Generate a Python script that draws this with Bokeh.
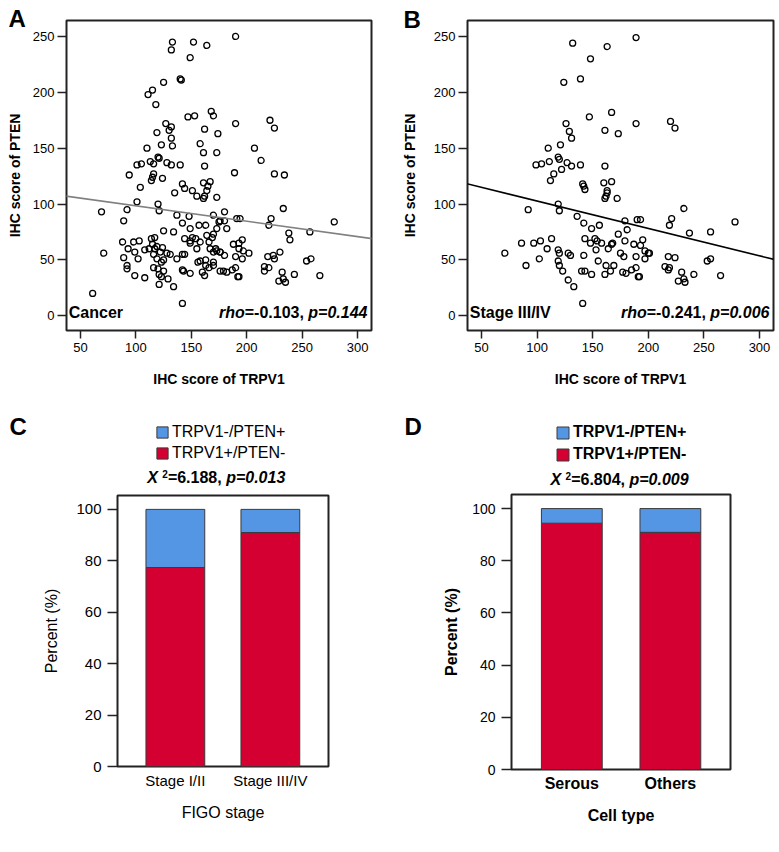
from bokeh.plotting import figure
from bokeh.models import Range1d, FixedTicker, Label, Legend, LegendItem, Slope
from bokeh.layouts import row, column
from bokeh.embed import file_html
from bokeh.resources import INLINE

FONT = "Liberation Sans"

# ---------------- data ----------------
# Panel A: all cancers (IHC score TRPV1 vs PTEN)
a_trpv1 = [133, 152, 164, 132, 149, 140, 141, 125, 115, 111, 118, 147, 153, 168, 170, 127, 132, 130, 119, 132,
           123, 133, 110, 162, 174, 158, 161, 173, 120, 121, 113, 116, 105, 101, 128, 132, 140, 162,
           190, 190, 221, 225, 207, 213,
           94, 116, 115, 124, 114, 104, 135, 142, 144, 151, 161, 167, 165, 164, 162, 155, 161, 173, 101, 92,
           120, 121, 69, 89, 137, 142, 148, 149, 157, 163, 170, 175, 173, 170, 164, 125, 134, 88, 93, 98,
           103, 99, 89, 71, 102, 108, 112, 114, 117, 115, 117, 116, 119, 122, 124, 128, 131, 119, 123, 125,
           116, 120, 125, 123, 121, 121, 92, 92, 99, 108, 129, 134, 142, 144, 137, 144, 149, 151, 154, 158,
           155, 149, 158, 163, 163, 156, 160, 162, 142, 143, 149, 169, 166, 167, 170, 172, 173, 170, 170, 166,
           176, 176, 61, 142,
           189, 225, 234, 180, 176, 180, 191, 194, 182, 233, 222, 220, 238, 239, 257, 279, 188, 193, 196, 193,
           197, 202, 196, 190, 180, 176, 179, 182, 187, 190, 192, 193, 216, 216, 220, 219, 224, 225, 230, 232,
           233, 229, 235, 243, 254, 258, 266]
a_pten = [245, 245, 242, 238, 231, 212, 211, 209, 202, 198, 189, 178, 179, 183, 179, 172, 169, 166, 164, 159,
          153, 152, 150, 167, 163, 154, 146, 146, 142, 141, 138, 136, 136, 135, 137, 135, 135, 134,
          250, 172, 175, 168, 150, 139,
          126, 127, 124, 123, 121, 115, 110, 118, 114, 112, 119, 120, 116, 112, 107, 107, 105, 106, 102, 95,
          100, 94, 93, 85, 90, 83, 89, 78, 81, 81, 90, 84, 78, 73, 72, 76, 75, 66, 60, 66,
          67, 57, 52, 56, 51, 59, 60, 69, 70, 64, 60, 55, 62, 57, 61, 56, 55, 51, 48, 50,
          43, 42, 40, 35, 28, 37, 45, 42, 36, 34, 33, 26, 55, 55, 51, 69, 67, 70, 69, 66,
          60, 65, 49, 50, 45, 48, 39, 36, 41, 40, 38, 70, 66, 60, 57, 60, 58, 48, 45, 43,
          57, 40, 20, 11,
          128, 127, 126, 93, 85, 85, 87, 87, 78, 96, 87, 81, 74, 68, 75, 84, 64, 65, 68, 60,
          58, 56, 51, 53, 54, 57, 40, 39, 41, 43, 35, 35, 44, 40, 43, 53, 54, 51, 57, 39,
          33, 31, 30, 37, 49, 51, 36]
a_fit_intercept = 112.2
a_fit_slope = -0.1377
a_stats = ["Cancer", "-0.103", "0.144"]

# Panel B: stage III/IV
b_trpv1 = [132, 163, 189, 148, 124, 139, 147, 167, 189, 220, 224, 161, 173, 126, 129, 131, 110, 121, 99, 104,
           111, 119, 120, 122, 127, 131, 139, 115, 112, 161, 167, 160, 163, 163, 162, 161, 172, 141, 142, 143,
           119, 120, 92, 136, 142, 149, 156, 179, 190, 193, 181, 173, 219, 221, 232, 237, 256, 278, 86, 97,
           103, 113, 109, 119, 120, 128, 130, 119, 120, 102, 90, 71, 123, 128, 133, 141, 143, 148, 152, 154,
           158, 142, 153, 164, 167, 168, 175, 178, 179, 187, 193, 195, 197, 189, 197, 200, 201, 140, 143, 149,
           155, 162, 161, 169, 166, 177, 180, 185, 189, 191, 192, 218, 224, 215, 219, 218, 230, 232, 233, 227,
           241, 253, 256, 265]
b_pten = [244, 241, 249, 230, 209, 212, 178, 182, 172, 174, 168, 166, 163, 172, 165, 159, 150, 153, 135, 136,
          138, 142, 140, 131, 137, 134, 135, 127, 121, 134, 120, 119, 112, 110, 107, 105, 105, 118, 116, 113,
          100, 94, 95, 89, 83, 78, 81, 85, 86, 86, 77, 73, 81, 87, 96, 74, 75, 84, 65, 65,
          67, 69, 60, 59, 56, 56, 54, 49, 45, 51, 45, 56, 40, 32, 26, 11, 69, 65, 69, 67,
          65, 54, 59, 60, 64, 65, 56, 53, 67, 64, 63, 68, 58, 53, 51, 56, 56, 40, 40, 37,
          49, 45, 37, 45, 40, 39, 38, 41, 43, 35, 35, 53, 52, 44, 43, 41, 39, 33, 30, 31,
          37, 49, 51, 36]
b_fit_intercept = 127.2
b_fit_slope = -0.2452
b_stats = ["Stage III/IV", "-0.241", "0.006"]

# Panel C: FIGO stage
stage_cats = ["Stage I/II", "Stage III/IV"]
stage_pos_neg = [77.4, 91.0]    # TRPV1+/PTEN-
stage_neg_pos = [22.6, 9.0]     # TRPV1-/PTEN+
stage_chi = ["6.188", "0.013"]

# Panel D: cell type
cell_cats = ["Serous", "Others"]
cell_pos_neg = [94.4, 90.9]
cell_neg_pos = [5.6, 9.1]
cell_chi = ["6.804", "0.009"]

series_names = ["TRPV1-/PTEN+", "TRPV1+/PTEN-"]
RED = "#D40032"
BLUE = "#5596E4"

# Arial / Liberation Sans bold advance widths (per em)
WB = {" ": .278, ",": .278, "-": .333, ".": .278, "=": .584, "X": .667, "p": .611, "r": .389,
      "h": .611, "o": .611}
BASE_SHIFT = 0.38  # empirical baseline correction (fraction of font size)


def tw(s, size):
    return sum(WB.get(c, .556) for c in s) * size


def label(p, x, y, text, size, style="bold", side="center"):
    """y is the wanted alphabetic baseline in canvas pixels."""
    p.add_layout(Label(x=x, y=y - BASE_SHIFT * size, x_units="canvas", y_units="canvas", text=text,
                       text_font=FONT, text_font_size=f"{size}px", text_font_style=style,
                       text_align="left", text_baseline="alphabetic", text_color="black"), side)


def base_fig(fw, fh, left, right, top, bottom, xr, yr):
    p = figure(output_backend="svg", toolbar_location=None, frame_width=fw, frame_height=fh,
               x_range=xr, y_range=yr, min_border_left=left, min_border_right=right,
               min_border_top=top, min_border_bottom=bottom)
    p.xgrid.visible = False
    p.ygrid.visible = False
    p.outline_line_color = "#222222"
    p.outline_line_width = 2
    p.background_fill_color = "white"
    p.border_fill_color = "white"
    return p


def style_axis(ax, tick_size, tick_style, lab_size, lab_style, tick_out, tick_standoff, lab_standoff):
    ax.axis_line_color = None
    ax.major_tick_out = tick_out
    ax.major_tick_in = 0
    ax.major_tick_line_color = "#222222" if tick_out > 0 else None
    ax.major_tick_line_width = 1.5
    ax.minor_tick_line_color = None
    ax.major_label_text_font = FONT
    ax.major_label_text_font_size = f"{tick_size}px"
    ax.major_label_text_font_style = tick_style
    ax.major_label_text_color = "black"
    ax.major_label_standoff = tick_standoff
    ax.axis_label_text_font = FONT
    ax.axis_label_text_font_size = f"{lab_size}px"
    ax.axis_label_text_font_style = lab_style
    ax.axis_label_text_color = "black"
    ax.axis_label_standoff = lab_standoff


def scatter_panel(xs, ys, intercept, slope, stats, line_color, left, fw, right, ylab_standoff):
    p = base_fig(fw, 310, left, right, 20, 70, Range1d(37.4, 312.6), Range1d(-13.2, 264.3))
    p.scatter(xs, ys, marker="circle", size=6, fill_color=None, line_color="black", line_width=1.3)
    p.add_layout(Slope(gradient=slope, y_intercept=intercept, line_color=line_color, line_width=1.6))
    p.xaxis.ticker = FixedTicker(ticks=[50, 100, 150, 200, 250, 300])
    p.yaxis.ticker = FixedTicker(ticks=[0, 50, 100, 150, 200, 250])
    p.xaxis.axis_label = "IHC score of TRPV1"
    p.yaxis.axis_label = "IHC score of PTEN"
    style_axis(p.xaxis[0], 13, "normal", 14, "bold", 8, 4, 16)
    style_axis(p.yaxis[0], 13, "normal", 14, "bold", 9, 3, ylab_standoff)
    base_y = 20 + 310 - 11.7
    label(p, left + 2.3, base_y, stats[0], 16, "bold")
    segs = [("rho", "bold italic"), ("=" + stats[1] + ", ", "bold"), ("p=" + stats[2], "bold italic")]
    x = left + fw - 4 - sum(tw(s, 16) for s, _ in segs)
    for s, st in segs:
        label(p, x, base_y, s, 16, st)
        x += tw(s, 16)
    return p


def header(letter, chi, bold, width, height, legend_loc, glyph, spacing, stat_x, stat_y, letter_x,
           xs, red_vals, blue_vals):
    h = figure(output_backend="svg", toolbar_location=None, width=width, height=height,
               x_axis_type=None, y_axis_type=None, x_range=Range1d(0, 1), y_range=Range1d(0, 1),
               min_border=0)
    h.outline_line_color = None
    h.xgrid.visible = False
    h.ygrid.visible = False
    h.border_fill_color = "white"
    tops = [r + b for r, b in zip(red_vals, blue_vals)]
    # hidden copies of the bars: they only supply the legend swatches
    sw_blue = h.vbar(x=xs, bottom=red_vals, top=tops, width=0.5, fill_color=BLUE,
                     line_color="#3a3a3a", line_width=1, visible=False)
    sw_red = h.vbar(x=xs, bottom=0, top=red_vals, width=0.5, fill_color=RED,
                    line_color="#3a3a3a", line_width=1, visible=False)
    wt = "bold" if bold else "normal"
    legend = Legend(items=[LegendItem(label=series_names[0], renderers=[sw_blue]),
                           LegendItem(label=series_names[1], renderers=[sw_red])],
                    location=legend_loc, orientation="vertical", padding=0, margin=0,
                    spacing=spacing, glyph_width=glyph, glyph_height=glyph, label_standoff=3,
                    label_height=glyph, label_text_font=FONT, label_text_font_size="16px",
                    label_text_font_style=wt, label_text_color="black",
                    border_line_color=None, background_fill_alpha=0, click_policy="none")
    h.add_layout(legend)
    x = stat_x
    label(h, x, stat_y, "X", 16, "bold italic")
    x += tw("X ", 16)
    label(h, x, stat_y - 6, "2", 10, "bold")
    x += tw("2", 10)
    t1 = "=" + chi[0] + ", "
    label(h, x, stat_y, t1, 16, "bold")
    x += tw(t1, 16)
    label(h, x, stat_y, "p=" + chi[1], 16, "bold italic")
    label(h, letter_x, 35, letter, 24, "bold", side="left")
    return h


def bar_panel(xs, cats, red_vals, blue_vals, bold, fw, fh, left, right, top, bottom, xr_pad, bar_w,
              xlabel, ylab_standoff):
    n = len(cats)
    tops = [r + b for r, b in zip(red_vals, blue_vals)]
    p = base_fig(fw, fh, left, right, top, bottom,
                 Range1d(1 - xr_pad[0], n + xr_pad[1]), Range1d(0, 105.4))
    p.vbar(x=xs, width=bar_w, bottom=0, top=red_vals, fill_color=RED, line_color="#3a3a3a", line_width=1)
    p.vbar(x=xs, width=bar_w, bottom=red_vals, top=tops, fill_color=BLUE, line_color="#3a3a3a",
           line_width=1)
    p.xaxis.ticker = FixedTicker(ticks=xs)
    p.xaxis.major_label_overrides = {x: c for x, c in zip(xs, cats)}
    p.yaxis.ticker = FixedTicker(ticks=[0, 20, 40, 60, 80, 100])
    p.yaxis.axis_label = "Percent (%)"
    p.xaxis.axis_label = xlabel
    wt = "bold" if bold else "normal"
    style_axis(p.xaxis[0], 16 if bold else 15, wt, 16, wt, 0, 5, 12)
    style_axis(p.yaxis[0], 15 if not bold else 14, "normal", 16, wt, 10, 6, ylab_standoff)
    return p


pa = scatter_panel(a_trpv1, a_pten, a_fit_intercept, a_fit_slope, a_stats, "#808080", 66, 305, 19, 7)
label(pa, 8, 27, "A", 24, "bold", side="right")
pb = scatter_panel(b_trpv1, b_pten, b_fit_intercept, b_fit_slope, b_stats, "black", 77, 306, 5, 13)
try:
    pb.title.text = "B"
    pb.title.align = "left"
    pb.title.offset = -64
    pb.title.standoff = -24
    pb.title.text_font = FONT
    pb.title.text_font_size = "24px"
    pb.title.text_font_style = "bold"
    pb.title.text_color = "black"
except Exception:
    pb.title.text = ""
    label(pb, 13, 27, "B", 24, "bold", side="left")

stage_x = [i + 1 for i in range(len(stage_cats))]
cell_x = [i + 1 for i in range(len(cell_cats))]
hc = header("C", stage_chi, False, 390, 92, (38, 30), 14, 3, 146.7, 83.3, 9,
            stage_x, stage_pos_neg, stage_neg_pos)
pc = bar_panel(stage_x, stage_cats, stage_pos_neg, stage_neg_pos, False,
               211, 271, 117, 62, 3, 84, (0.609, 0.612), 0.619, "FIGO stage", 13)
hd = header("D", cell_chi, True, 388, 92, (44, 29), 15, 4, 160, 85, 14,
            cell_x, cell_pos_neg, cell_neg_pos)
pd = bar_panel(cell_x, cell_cats, cell_pos_neg, cell_neg_pos, True,
               219, 275, 121, 48, 2, 81, (0.612, 0.610), 0.617, "Cell type", 9)

layout = column(row(pa, pb, spacing=0),
                row(column(hc, pc, spacing=0), column(hd, pd, spacing=0), spacing=0),
                spacing=0)
open("out.html", "w").write(file_html(layout, INLINE))
